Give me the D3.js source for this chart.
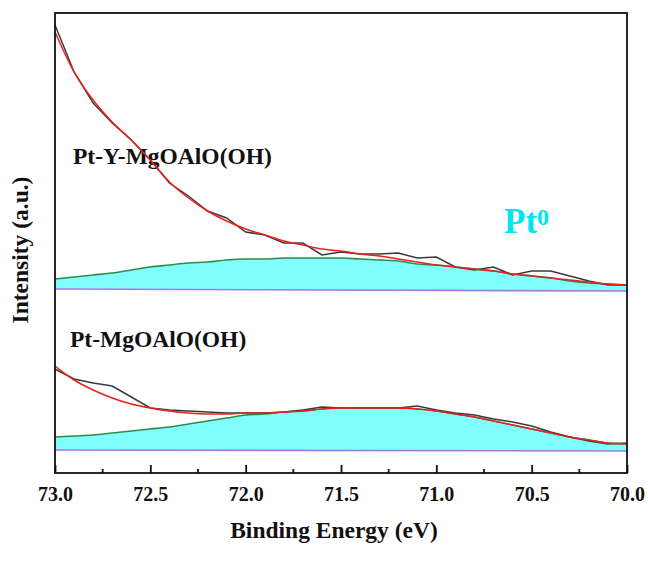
<!DOCTYPE html>
<html>
<head>
<meta charset="utf-8">
<script src="https://cdn.jsdelivr.net/npm/d3@7/dist/d3.min.js"></script>
<style>
  html, body { margin: 0; padding: 0; background: #fff; }
  svg { display: block; }
  text { font-family: "Liberation Serif", "Times New Roman", serif; font-weight: bold; }
</style>
</head>
<body>
<svg id="chart" width="648" height="565"></svg>
<script>
// Binding energies (eV), 0.1 eV steps from 73.0 down to 70.0
const energy = d3.range(0, 31).map(i => +(73 - i * 0.1).toFixed(1));

// Pt-Y-MgOAlO(OH): raw spectrum, envelope, Pt0 component, baseline (a.u.)
const yRaw = [448, 401, 370, 350, 333, 313, 290, 277, 262, 255, 241, 238, 230, 230, 218, 221,
              219, 219, 220, 215, 216, 206, 203, 206, 198, 202, 202, 197, 192, 188, 188];
const yFit = [441, 401, 373, 351, 333, 313, 291, 275, 262, 252, 244, 238, 232, 228, 224, 222,
              219, 217, 214, 211, 208, 206, 204, 202, 199, 197, 195, 193, 191, 189, 188];
const yPeak = [194, 196, 198, 200, 203, 206, 208, 210, 211, 213, 214, 214, 215, 215, 215, 215,
               214, 213, 212, 209, 208, 206, 204, 202, 199, 197, 195, 192, 190, 189, 188];
const yBase = [184, 182];

// Pt-MgOAlO(OH): raw spectrum, envelope, Pt0 component, baseline (a.u.)
const pRaw = [104, 94, 90, 87, 76, 65, 63, 62, 61, 60, 60, 60, 61, 63, 66, 65,
              65, 65, 65, 67, 63, 60, 58, 54, 51, 47, 41, 36, 32, 29, 30];
const pFit = [107, 93, 83, 75, 69, 65, 62, 60, 59, 59, 60, 60, 61, 62, 64, 65,
              65, 65, 65, 64, 62, 59, 56, 52, 48, 44, 40, 36, 33, 30, 29];
const pPeak = [36, 37, 38, 40, 42, 44, 46, 49, 52, 55, 58, 59, 61, 62, 64, 65,
               65, 65, 65, 64, 62, 59, 56, 52, 48, 44, 40, 36, 33, 30, 29];
const pBase = [23, 22];

const majorTicks = [73.0, 72.5, 72.0, 71.5, 71.0, 70.5, 70.0];
const minorTicks = [72.75, 72.25, 71.75, 71.25, 70.75, 70.25];

const svg = d3.select("#chart");
const plot = { left: 55, right: 627, top: 13, bottom: 473 };
const serif = "Liberation Serif, Times New Roman, serif";

const x = d3.scaleLinear().domain([73, 70]).range([plot.left, plot.right]);
const y = d3.scaleLinear().domain([0, 460]).range([plot.bottom, plot.top]);

const rawLine = d3.line().x(d => x(d[0])).y(d => y(d[1]));
const smoothLine = d3.line().x(d => x(d[0])).y(d => y(d[1])).curve(d3.curveMonotoneX);
const pairs = vals => energy.map((e, i) => [e, vals[i]]);
const baseAt = (b, e) => b[0] + (b[1] - b[0]) * (73 - e) / 3;

function spectrum(raw, fit, peak, base) {
  const g = svg.append("g");
  // filled Pt0 component between baseline and peak curve
  g.append("path")
    .datum(energy.map((e, i) => ({ e, top: peak[i], bot: baseAt(base, e) })))
    .attr("d", d3.area().x(d => x(d.e)).y0(d => y(d.bot)).y1(d => y(d.top))
      .curve(d3.curveMonotoneX))
    .attr("fill", "#80ffff");
  g.append("path")
    .datum([[73, base[0]], [70, base[1]]])
    .attr("d", rawLine).attr("fill", "none")
    .attr("stroke", "#a27ae6").attr("stroke-width", 1.6);
  g.append("path")
    .datum(pairs(peak))
    .attr("d", smoothLine).attr("fill", "none")
    .attr("stroke", "#2e8b4e").attr("stroke-width", 1.6);
  g.append("path")
    .datum(pairs(raw))
    .attr("d", rawLine).attr("fill", "none")
    .attr("stroke", "#3a3a3a").attr("stroke-width", 1.5);
  g.append("path")
    .datum(pairs(fit))
    .attr("d", smoothLine).attr("fill", "none")
    .attr("stroke", "#e8221e").attr("stroke-width", 1.5);
}

// sample labels
svg.append("text").attr("x", 73).attr("y", 164).attr("font-family", serif)
  .attr("font-size", 23.5).attr("fill", "#111").text("Pt-Y-MgOAlO(OH)");
svg.append("text").attr("x", 70).attr("y", 347).attr("font-family", serif)
  .attr("font-size", 23.5).attr("fill", "#111").text("Pt-MgOAlO(OH)");

spectrum(yRaw, yFit, yPeak, yBase);
spectrum(pRaw, pFit, pPeak, pBase);

// component label
const pt = svg.append("text").attr("x", 504).attr("y", 233).attr("font-family", serif)
  .attr("font-size", 35).attr("fill", "#00e6ef");
pt.append("tspan").text("Pt");
pt.append("tspan").attr("font-size", 24).attr("dy", -8).text("0");

// frame
svg.append("rect")
  .attr("x", plot.left).attr("y", plot.top)
  .attr("width", plot.right - plot.left).attr("height", plot.bottom - plot.top)
  .attr("fill", "none").attr("stroke", "#111").attr("stroke-width", 1.8);

// bottom axis with inward ticks
const axis = svg.append("g").attr("transform", `translate(0,${plot.bottom})`)
  .call(d3.axisBottom(x).tickValues(majorTicks).tickSize(-8).tickPadding(14)
    .tickFormat(d3.format(".1f")));
axis.attr("font-family", serif);
axis.select(".domain").remove();
axis.selectAll(".tick line").attr("stroke", "#111").attr("stroke-width", 1.8);
axis.selectAll(".tick text").attr("font-size", 20).attr("fill", "#111")
  .attr("font-family", serif).attr("font-weight", "bold");

svg.append("g").selectAll("line").data(minorTicks).join("line")
  .attr("x1", d => x(d)).attr("x2", d => x(d))
  .attr("y1", plot.bottom).attr("y2", plot.bottom - 4)
  .attr("stroke", "#111").attr("stroke-width", 1.8);

// axis titles
svg.append("text").attr("x", 334).attr("y", 538).attr("text-anchor", "middle")
  .attr("font-family", serif).attr("font-size", 23.5).attr("fill", "#111")
  .text("Binding Energy (eV)");
svg.append("text").attr("transform", "translate(28,250) rotate(-90)")
  .attr("text-anchor", "middle").attr("font-family", serif)
  .attr("font-size", 23.5).attr("fill", "#111")
  .text("Intensity (a.u.)");
</script>
</body>
</html>
